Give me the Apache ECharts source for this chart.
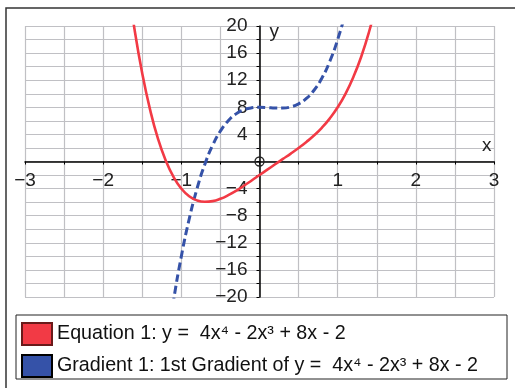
<!DOCTYPE html>
<html>
<head>
<meta charset="utf-8">
<script src="https://cdn.jsdelivr.net/npm/echarts@6/dist/echarts.min.js"></script>
<style>
  html, body { margin: 0; padding: 0; background: #fff; }
  #box { width: 515px; height: 388px; }
</style>
</head>
<body>
<div id="box"></div>
<script>
// points
var eqX = [-1.7, -1.6, -1.5, -1.4, -1.3, -1.2, -1.1, -1.0, -0.9, -0.8, -0.7, -0.6, -0.5, -0.4, -0.3, -0.2, -0.1, 0,
    0.1, 0.2, 0.3, 0.4, 0.5, 0.6, 0.7, 0.8, 0.9, 1.0, 1.1, 1.2, 1.3, 1.4, 1.5];
var eqY = [27.6, 19.6, 13.0, 7.66, 3.41, 0.15, -2.28, -4.0, -5.12, -5.74, -5.95, -5.85, -5.5, -4.97, -4.32, -3.58, -2.8, -2.0,
    -1.2, -0.41, 0.38, 1.17, 2.0, 2.89, 3.87, 5.01, 6.37, 8.0, 9.99, 12.44, 15.43, 19.08, 23.5];
var gradX = [-1.2, -1.1, -1.0, -0.9, -0.8, -0.7, -0.6, -0.5, -0.4, -0.3, -0.2, -0.1, 0,
    0.1, 0.2, 0.3, 0.4, 0.5, 0.6, 0.7, 0.8, 0.9, 1.0, 1.1, 1.2];
var gradY = [-28.3, -20.56, -14.0, -8.52, -4.03, -0.43, 2.38, 4.5, 6.02, 7.03, 7.63, 7.92, 8.0,
    7.96, 7.89, 7.89, 8.06, 8.5, 9.3, 10.55, 12.35, 14.8, 18.0, 22.04, 27.0];
var originPt = [[0, 0]];
var seriesNames = ['Equation 1: y =  4x\u2074 - 2x\u00b3 + 8x - 2', 'Gradient 1: 1st Gradient of y =  4x\u2074 - 2x\u00b3 + 8x - 2'];

function pairs(xs, ys) {
    return xs.map(function (x, i) { return [x, ys[i]]; });
}
function minus(v) {
    return String(v).replace('-', '\u2212');
}

var gridL = 25, gridR = 21, gridT = 26, gridB = 91;
var gridW = 515 - gridL - gridR, gridH = 388 - gridT - gridB;

var myChart = echarts.init(document.getElementById('box'));
var option = {
    backgroundColor: '#fff',
    animation: false,
    textStyle: { fontFamily: 'Liberation Sans, Arial, sans-serif' },
    grid: { left: gridL, right: gridR, top: gridT, bottom: gridB, outerBoundsMode: 'none', containLabel: false },
    graphic: [
        { type: 'rect', shape: { x: 6, y: 8, width: 620, height: 500 }, style: { fill: 'none', stroke: '#333', lineWidth: 1.5 }, z: 0 },
        { type: 'rect', shape: { x: 16, y: 315, width: 491, height: 64 }, style: { fill: '#fff', stroke: '#222', lineWidth: 1 }, z: 1 }
    ],
    legend: {
        orient: 'vertical',
        left: 16,
        top: 317,
        itemWidth: 30,
        itemHeight: 22,
        itemGap: 8,
        icon: 'rect',
        data: seriesNames,
        textStyle: { fontSize: 19.7, color: '#111', fontFamily: 'Liberation Sans, Arial, sans-serif' },
        z: 5
    },
    xAxis: {
        type: 'value',
        min: -3,
        max: 3,
        interval: 0.5,
        position: 'bottom',
        offset: -gridH / 2,
        name: 'x',
        nameLocation: 'end',
        nameGap: -12,
        nameTextStyle: { fontSize: 19, color: '#222', verticalAlign: 'bottom', padding: [0, 0, 6, 0] },
        axisLine: { onZero: false, lineStyle: { color: '#000', width: 1.5 } },
        axisTick: { show: true, length: 3, lineStyle: { color: '#000' } },
        axisLabel: {
            fontSize: 19,
            color: '#222',
            margin: 10,
            showMinLabel: true,
            showMaxLabel: true,
            hideOverlap: false,
            formatter: function (v) {
                if (v === 0 || Math.round(v) !== v) return '';
                return minus(v);
            }
        },
        splitLine: { show: true, lineStyle: { color: '#c0c0c4', width: 1.2 } }
    },
    yAxis: {
        type: 'value',
        min: -20,
        max: 20,
        interval: 2,
        position: 'left',
        offset: -gridW / 2,
        name: 'y',
        nameLocation: 'end',
        nameGap: -15,
        nameTextStyle: { fontSize: 19, color: '#222', align: 'left', padding: [0, 0, 0, 10] },
        axisLine: { onZero: false, lineStyle: { color: '#000', width: 1.5 } },
        axisTick: { show: true, length: 3, lineStyle: { color: '#000' } },
        axisLabel: {
            fontSize: 19,
            color: '#222',
            margin: 12,
            hideOverlap: false,
            formatter: function (v) {
                if (v === 0 || v % 4 !== 0) return '';
                return minus(v);
            }
        },
        splitLine: { show: true, lineStyle: { color: '#c0c0c4', width: 1.2 } }
    },
    series: [
        {
            name: seriesNames[0],
            type: 'line',
            data: pairs(eqX, eqY),
            smooth: true,
            showSymbol: false,
            clip: true,
            lineStyle: { color: '#f23a45', width: 2.6 },
            itemStyle: { color: '#f23a45', borderColor: '#6a1a1a', borderWidth: 1 },
            z: 3
        },
        {
            name: seriesNames[1],
            type: 'line',
            data: pairs(gradX, gradY),
            smooth: true,
            showSymbol: false,
            clip: true,
            lineStyle: { color: '#3552a8', width: 3, type: [8, 4] },
            itemStyle: { color: '#3552a8', borderColor: '#000', borderWidth: 2 },
            z: 2
        },
        {
            name: 'origin',
            type: 'scatter',
            data: originPt,
            symbol: 'circle',
            symbolSize: 9,
            silent: true,
            itemStyle: { color: 'rgba(255,255,255,0)', borderColor: '#222', borderWidth: 1.3, opacity: 1 },
            z: 10
        }
    ]
};

option && myChart.setOption(option);
</script>
</body>
</html>
